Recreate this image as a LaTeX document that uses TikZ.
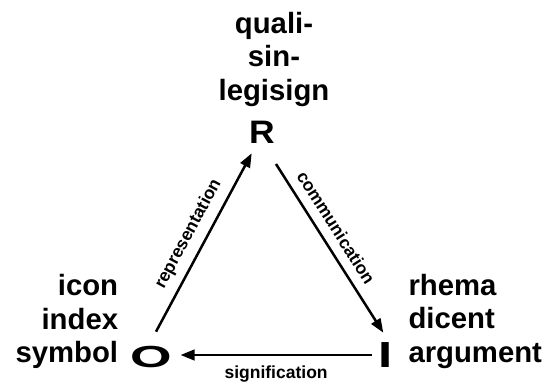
\documentclass[tikz,border=0pt]{standalone}
\usepackage{fontspec}
\setmainfont{Liberation Sans}
\usetikzlibrary{arrows.meta,calc}
\tikzset{
  big/.style={font=\bfseries\fontsize{29.3}{33.5}\selectfont, inner sep=0pt},
  letter/.style={font=\bfseries, inner sep=0pt, anchor=base},
  arr/.style={line width=2.5pt, -{Triangle[length=14pt,width=10.5pt]}},
  lab/.style={font=\bfseries\fontsize{17.5}{20}\selectfont, inner sep=0pt, sloped},
}
\begin{document}
\begin{tikzpicture}[x=1pt,y=-1pt]
\useasboundingbox (0,0) rectangle (546,383);
% letters
\node[letter] (R) at (262,143.3) {\scalebox{1.09}[1]{\fontsize{32.5}{32.5}\selectfont R}};
\node[letter] (O) at (151,367.3) {\scalebox{1.75}[1]{\fontsize{30.5}{30.5}\selectfont O}};
\node[letter] (I) at (385.4,367.7) {\scalebox{1.4}[1]{\fontsize{36.3}{36.3}\selectfont I}};
% labels
\node[big, align=center, anchor=base] (top) at (274,100) {quali-\\sin-\\legisign};
\node[big, align=right, anchor=base east] (left) at (118.3,362.7) {icon\\index\\symbol};
\node[big, align=left, anchor=base west] (right) at (408.3,362) {rhema\\dicent\\argument};
% connectors
\draw[arr] ($(O.base)+(5,-35.6)$) -- node[lab, midway, above=8pt] (rep) {representation} ($(R.base)+(-10.3,10)$);
\draw[arr] ($(R.base)+(14,20.7)$) -- node[lab, pos=0.43, above=9pt] (com) {communication} ($(I.base)+(-2.1,-35)$);
\draw[arr] ($(I.base)+(-13.7,-12.7)$) -- node[lab, midway, below=10pt] (sig) {signification} ($(O.base)+(29.5,-12.3)$);
\end{tikzpicture}
\end{document}
